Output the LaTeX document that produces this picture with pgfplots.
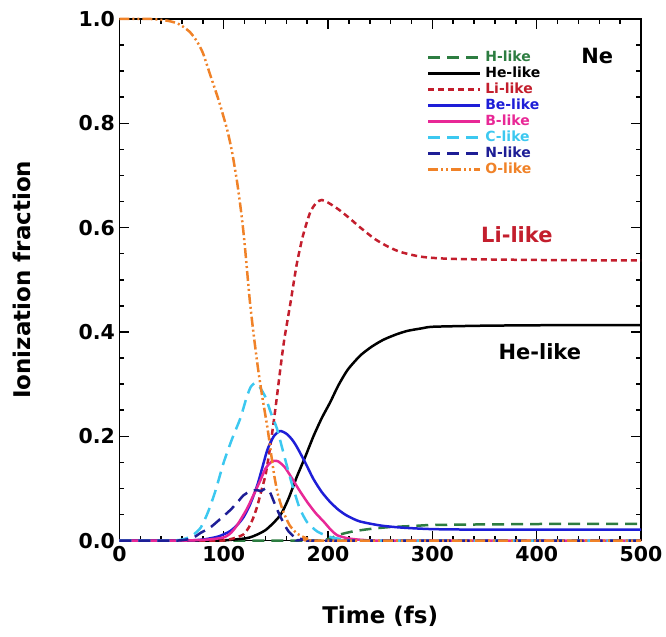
\documentclass[border=0pt]{standalone}
\usepackage{pgfplots}
\pgfplotsset{compat=1.18}
\usepackage{fontspec}
\setmainfont{DejaVu Sans}
\definecolor{hgreen}{RGB}{45,125,65}
\definecolor{lired}{RGB}{195,30,45}
\definecolor{beblue}{RGB}{30,30,215}
\definecolor{bmag}{RGB}{232,40,150}
\definecolor{ccyan}{RGB}{60,200,240}
\definecolor{nnavy}{RGB}{30,30,150}
\definecolor{oorange}{RGB}{240,130,40}
\begin{document}
\begin{tikzpicture}
\begin{axis}[
  scale only axis, width=522pt, height=522pt,
  xmin=0, xmax=500, ymin=0, ymax=1,
  xtick={0,100,...,500}, ytick={0,0.2,...,1.0},
  minor x tick num=4, minor y tick num=3,
  tick align=inside, tickpos=both,
  major tick length=10pt, minor tick length=5pt,
  axis line style={line width=1.7pt},
  every tick/.style={line width=1.5pt, black},
  /pgf/number format/assume math mode=true,
  yticklabel style={/pgf/number format/fixed, /pgf/number format/fixed zerofill, /pgf/number format/precision=1, xshift=-1pt},
  ticklabel style={font=\fontsize{20.5}{24}\selectfont\bfseries},
  xticklabel style={yshift=-2pt},
  xlabel={Time (fs)}, ylabel={Ionization fraction},
  label style={font=\fontsize{23}{27}\selectfont\bfseries},
  xlabel style={at={(axis description cs:0.5,-0.158)}, anchor=base},
  ylabel style={at={(axis description cs:-0.1877,0.5)}, anchor=center},
  clip=false,
  legend cell align=left,
  legend image code/.code={\draw[#1] (0pt,0pt) -- (52pt,0pt);},
  legend style={at={(rel axis cs:0.589,0.9416)}, anchor=north west,
    draw=none, fill=none, inner sep=0pt, column sep=3pt, row sep=0pt,
    font=\fontsize{14}{16}\selectfont\bfseries,
    nodes={inner sep=1pt, text height=10.5pt, text depth=3.5pt}},
  every axis plot/.append style={line width=2.5pt, smooth, tension=0.4},
]
% H-like
\addplot[hgreen, dash pattern=on 12pt off 7pt] coordinates {
(0,0) (190,0) (200,0.003) (212,0.012) (225,0.018) (243,0.023) (260,0.026) (282,0.028) (300,0.030) (350,0.031) (420,0.032) (500,0.032)};
% He-like
\addplot[black] coordinates {
(0,0) (90,0) (110,0.002) (125,0.006) (140,0.02) (154,0.048) (162,0.08) (170,0.122) (178,0.16) (186,0.2) (194,0.235) (202,0.265) (210,0.298) (219,0.328) (231,0.355) (242,0.372) (253,0.385) (265,0.395) (276,0.402) (290,0.407) (301,0.41) (350,0.412) (420,0.413) (500,0.413)};
% Li-like
\addplot[lired, dash pattern=on 6pt off 4pt] coordinates {
(0,0) (95,0) (105,0.002) (112,0.006) (119,0.012) (124,0.025) (128,0.042) (132,0.065) (136,0.095) (140,0.125) (143,0.16) (146,0.2) (150,0.26) (154,0.325) (158,0.385) (164,0.456) (170,0.53) (176,0.585) (183,0.63) (189,0.648) (194,0.653) (200,0.648) (210,0.635) (220,0.619) (231,0.6) (245,0.578) (258,0.563) (270,0.553) (290,0.544) (320,0.54) (400,0.538) (500,0.537)};
% Be-like
\addplot[beblue] coordinates {
(0,0) (60,0) (80,0.002) (95,0.008) (106,0.018) (113,0.03) (119,0.045) (125,0.068) (132,0.105) (137,0.14) (142,0.175) (148,0.2) (154,0.21) (160,0.205) (165,0.195) (170,0.18) (178,0.15) (186,0.118) (194,0.093) (202,0.074) (210,0.059) (218,0.048) (230,0.037) (250,0.029) (270,0.025) (300,0.022) (350,0.021) (500,0.021)};
% B-like
\addplot[bmag] coordinates {
(0,0) (60,0) (85,0.002) (100,0.006) (107,0.015) (113,0.03) (122,0.06) (128,0.085) (135,0.115) (140,0.138) (145,0.15) (148,0.153) (152,0.152) (158,0.142) (164,0.124) (172,0.098) (180,0.074) (188,0.053) (196,0.036) (203,0.02) (209,0.01) (220,0.004) (235,0.001) (260,0) (500,0)};
% C-like
\addplot[ccyan, dash pattern=on 12pt off 7pt] coordinates {
(0,0) (50,0) (62,0.003) (70,0.01) (78,0.025) (85,0.055) (92,0.095) (100,0.15) (108,0.195) (116,0.235) (122,0.275) (126,0.295) (130,0.302) (134,0.296) (140,0.275) (145,0.246) (151,0.215) (157,0.17) (164,0.118) (169,0.085) (173,0.061) (180,0.035) (190,0.017) (202,0.007) (215,0.002) (230,0) (500,0)};
% N-like
\addplot[nnavy, dash pattern=on 12pt off 7pt] coordinates {
(0,0) (55,0) (70,0.005) (78,0.015) (87,0.025) (97,0.042) (106,0.058) (113,0.073) (119,0.087) (125,0.094) (131,0.097) (136,0.095) (140,0.1) (144,0.094) (148,0.075) (152,0.056) (157,0.035) (162,0.018) (168,0.007) (177,0.002) (190,0) (500,0)};
% O-like
\addplot[oorange, dash pattern=on 10pt off 3pt on 2pt off 3pt on 2pt off 3pt] coordinates {
(0,1.0) (30,1.0) (45,0.997) (55,0.992) (62,0.984) (68,0.974) (74,0.958) (80,0.935) (87,0.893) (95,0.845) (103,0.79) (108,0.745) (113,0.685) (117,0.625) (120,0.57) (125,0.46) (129,0.39) (133,0.328) (137,0.275) (142,0.215) (148,0.13) (152,0.088) (157,0.056) (163,0.03) (170,0.014) (180,0.004) (195,0) (500,0)};
\legend{\textcolor{hgreen}{H-like},\textcolor{black}{He-like},\textcolor{lired}{Li-like},\textcolor{beblue}{Be-like},\textcolor{bmag}{B-like},\textcolor{ccyan}{C-like},\textcolor{nnavy}{N-like},\textcolor{oorange}{O-like}}
\node[font=\fontsize{21}{24}\selectfont\bfseries] at (axis cs:458,0.929) {Ne};
\node[font=\fontsize{21}{24}\selectfont\bfseries, text=lired] at (axis cs:381,0.587) {Li-like};
\node[font=\fontsize{21}{24}\selectfont\bfseries] at (axis cs:403,0.362) {He-like};
\end{axis}
\path ([xshift=-119.5pt,yshift=-95.5pt]current axis.south west) rectangle ([xshift=25pt,yshift=19pt]current axis.north east);
\end{tikzpicture}
\end{document}
